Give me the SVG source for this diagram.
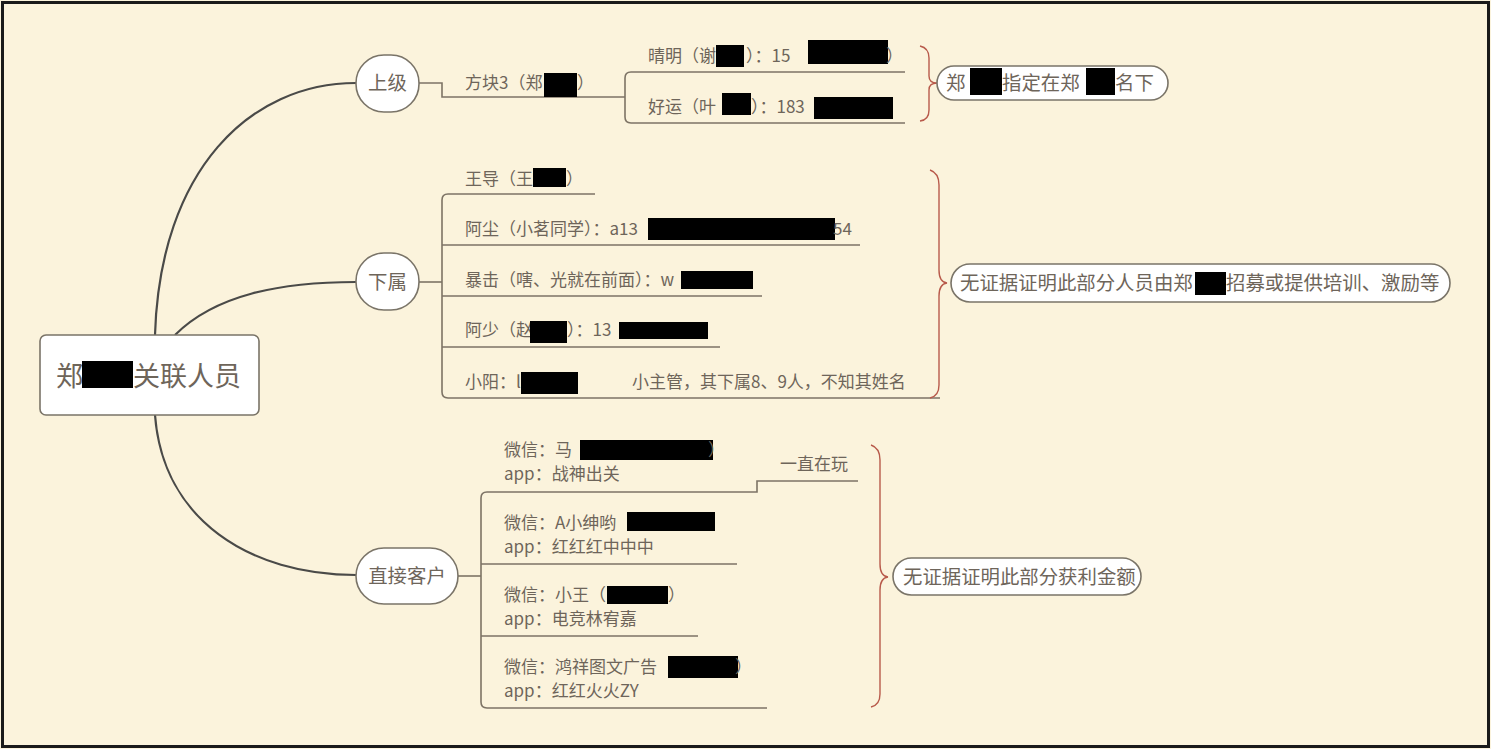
<svg xmlns="http://www.w3.org/2000/svg" width="1491" height="749" viewBox="0 0 1491 749">
<style>
.t{font-family:"Microsoft YaHei","Noto Sans CJK SC","Noto Sans",sans-serif;fill:#6e655a;font-size:17px}
.b{font-size:19.4px}
.r{font-size:27px}
.ln{fill:none;stroke:#7d7365;stroke-width:1.6}
.cv{fill:none;stroke:#4a4a48;stroke-width:2.2}
.br{fill:none;stroke:#b85a4b;stroke-width:1.4}
.nd{fill:#ffffff;stroke:#7a7468;stroke-width:1.6}
.k{fill:#000}
</style>
<rect x="0" y="0" width="1491" height="749" fill="#fbf3dc"/>
<rect x="2.5" y="2.5" width="1486" height="744" fill="none" stroke="#1a1a1a" stroke-width="3"/>

<g id="connectors">
<path class="cv" d="M155,335 C160,170 250,83 356,83"/>
<path class="cv" d="M175,335 C215,295 280,282 356,282"/>
<path class="cv" d="M155,415 C163,520 250,575 356,575"/>
<path class="ln" d="M419,83 H442 V97 H625"/>
<path class="ln" d="M905,72 H631 Q625,72 625,78 V117 Q625,123 631,123 H905"/>
<path class="ln" d="M419,282 H442"/>
<path class="ln" d="M595,194 H448 Q442,194 442,200 V392 Q442,398 448,398 H940"/>
<path class="ln" d="M442,245 H860 M442,296 H762 M442,347 H720"/>
<path class="ln" d="M458,576 H481"/>
<path class="ln" d="M858,481 H757 V492 H487 Q481,492 481,498 V702 Q481,708 487,708 H767"/>
<path class="ln" d="M481,564 H737 M481,636 H698"/>
<path class="br" d="M920,46 Q929,48 929,58 V76 Q929,83 937,83 Q929,83 929,90 V110 Q929,120 920,121"/>
<path class="br" d="M930,170 Q939,173 939,185 V270 Q939,282 947,283 Q939,284 939,296 V385 Q939,396 930,398"/>
<path class="br" d="M871,445 Q880,448 880,460 V564 Q880,576 888,577 Q880,578 880,590 V694 Q880,705 871,707"/>
</g>

<g id="root">
<rect class="nd" x="40" y="335" width="219" height="80" rx="6" stroke="#4f4f4f" stroke-width="2"/>
<text class="t r" x="56" y="386">郑</text>
<rect class="k" x="82" y="361" width="51" height="27"/>
<text class="t r" x="133" y="386">关联人员</text>
</g>

<g id="shangji">
<rect class="nd" x="356" y="55" width="63" height="57" rx="28"/>
<text class="t b" x="387.5" y="90" text-anchor="middle">上级</text>
</g>
<g id="fangkuai">
<text class="t" x="465" y="89">方块3（郑</text>
<rect class="k" x="544" y="73" width="33" height="24"/>
<text class="t" x="577" y="89">）</text>
</g>
<g id="qingming">
<text class="t" x="648" y="62">晴明（谢</text>
<rect class="k" x="716" y="45" width="28" height="22"/>
<text class="t" x="746" y="62">）：15</text>
<rect class="k" x="808" y="40" width="80" height="24"/>
<text class="t" x="886" y="62">）</text>
</g>
<g id="haoyun">
<text class="t" x="648" y="113">好运（叶</text>
<rect class="k" x="722" y="93" width="29" height="22"/>
<text class="t" x="751" y="113">）：183</text>
<rect class="k" x="814" y="97" width="79" height="22"/>
</g>
<g id="note1">
<rect class="nd" x="937" y="66" width="231" height="34" rx="17"/>
<text class="t b" x="946" y="90">郑</text>
<rect class="k" x="970" y="68" width="32" height="27"/>
<text class="t b" x="1002" y="90">指定在郑</text>
<rect class="k" x="1086" y="68" width="29" height="27"/>
<text class="t b" x="1115" y="90">名下</text>
</g>

<g id="xiashu">
<rect class="nd" x="356" y="253" width="63" height="57" rx="28"/>
<text class="t b" x="387.5" y="289" text-anchor="middle">下属</text>
</g>
<g id="wangdao">
<text class="t" x="465" y="185">王导（王</text>
<rect class="k" x="533" y="168" width="33" height="19"/>
<text class="t" x="566" y="185">）</text>
</g>
<g id="achen">
<text class="t" x="465" y="235">阿尘（小茗同学）：a13</text>
<rect class="k" x="648" y="218" width="187" height="22"/>
<text class="t" x="833" y="235">54</text>
</g>
<g id="baoji">
<text class="t" x="465" y="286">暴击（嗐、光就在前面）：w</text>
<rect class="k" x="681" y="271" width="72" height="18"/>
</g>
<g id="ashao">
<text class="t" x="465" y="336">阿少（赵</text>
<rect class="k" x="530" y="321" width="37" height="22"/>
<text class="t" x="567" y="336">）：13</text>
<rect class="k" x="619" y="322" width="89" height="17"/>
</g>
<g id="xiaoyang">
<text class="t" x="465" y="388">小阳：l</text>
<rect class="k" x="521" y="372" width="57" height="22"/>
<text class="t" x="632" y="388">小主管，其下属8、9人，不知其姓名</text>
</g>
<g id="note2">
<rect class="nd" x="951" y="264" width="499" height="38" rx="19"/>
<text class="t b" x="960" y="290">无证据证明此部分人员由郑</text>
<rect class="k" x="1195" y="272" width="31" height="23"/>
<text class="t b" x="1226" y="290">招募或提供培训、激励等</text>
</g>

<g id="kehu">
<rect class="nd" x="356" y="548" width="102" height="56" rx="28"/>
<text class="t b" x="407" y="583" text-anchor="middle">直接客户</text>
</g>
<g id="c1">
<text class="t" x="504" y="456">微信：马</text>
<rect class="k" x="580" y="440" width="133" height="20"/>
<text class="t" x="708" y="456">）</text>
<text class="t" x="504" y="480">app：战神出关</text>
<text class="t" x="780" y="470">一直在玩</text>
</g>
<g id="c2">
<text class="t" x="504" y="529">微信：A小绅哟（</text>
<rect class="k" x="627" y="512" width="88" height="19"/>
<text class="t" x="504" y="553">app：红红红中中中</text>
</g>
<g id="c3">
<text class="t" x="504" y="601">微信：小王（</text>
<rect class="k" x="607" y="586" width="61" height="18"/>
<text class="t" x="668" y="601">）</text>
<text class="t" x="504" y="625">app：电竞林宥嘉</text>
</g>
<g id="c4">
<text class="t" x="504" y="673">微信：鸿祥图文广告（</text>
<rect class="k" x="668" y="656" width="70" height="22"/>
<text class="t" x="735" y="673">）</text>
<text class="t" x="504" y="697">app：红红火火ZY</text>
</g>
<g id="note3">
<rect class="nd" x="893" y="558" width="248" height="37" rx="18.5"/>
<text class="t b" x="903" y="584">无证据证明此部分获利金额</text>
</g>
</svg>
